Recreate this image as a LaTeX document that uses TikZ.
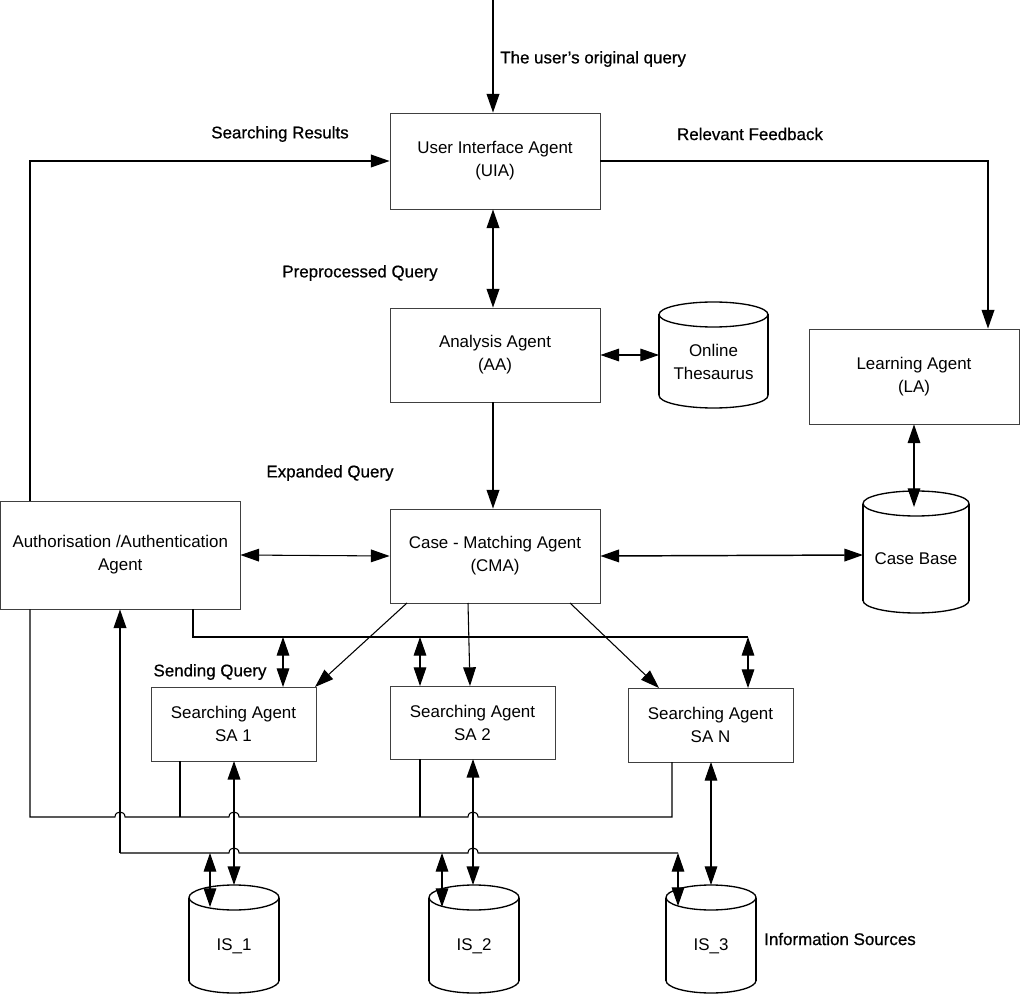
\documentclass[tikz,border=0pt]{standalone}
\usepackage{fontspec}
\setmainfont{Liberation Sans}
\newfontfamily\lblfont{Liberation Sans}[FakeBold=0.7,Ligatures=TeX]
\usetikzlibrary{arrows.meta}
\newcommand{\dbase}[6]{%
  \pgfmathsetmacro\cxa{(#2+#4)/2}%
  \pgfmathsetmacro\rxa{(#4-#2)/2}%
  \draw[cylline] (\cxa,#3+12.5) ellipse [x radius=\rxa, y radius=12.5];
  \draw[cylline] (#2,#3+12.5) -- (#2,#5-12.5);
  \draw[cylline] (#4,#3+12.5) -- (#4,#5-12.5);
  \begin{scope}
    \clip (#2-3,#5-12.5) rectangle (#4+3,#5+3);
    \draw[cylline] (\cxa,#5-12.5) ellipse [x radius=\rxa, y radius=12.5];
  \end{scope}
  \node[align=center, inner sep=0pt] (#1) at (\cxa,{(#3+#5)/2+7}) {#6};
}
\begin{document}
\begin{tikzpicture}[x=0.75pt,y=-0.75pt,
  font=\fontsize{12.7}{17.2}\selectfont,
  box/.style={draw=black!75, line width=0.6pt, rectangle, align=center, inner sep=0pt},
  cylline/.style={line width=1pt},
  conn/.style={line width=1.1pt},
  thin conn/.style={line width=0.8pt},
  tip/.style={-{Triangle[length=14pt,width=9.5pt]}},
  dtip/.style={{Triangle[length=14pt,width=9.5pt]}-{Triangle[length=14pt,width=9.5pt]}},
  lbl/.style={inner sep=0pt, font=\fontsize{12.7}{15}\lblfont},
]
\useasboundingbox (0,0) rectangle (1020,994);

% boxes
\node[box, minimum width=157.5pt, minimum height=72pt] (uia) at (495,161) {User Interface Agent\\(UIA)};
\node[box, minimum width=157.5pt, minimum height=70.5pt] (aa) at (495,355) {Analysis Agent\\(AA)};
\node[box, minimum width=157.5pt, minimum height=70.5pt] (cma) at (495,556) {Case - Matching Agent\\(CMA)};
\node[box, minimum width=179.5pt, minimum height=81pt] (auth) at (120.3,555) {Authorisation /Authentication\\Agent};
\node[box, minimum width=157.5pt, minimum height=71.25pt] (la) at (914,376.5) {Learning Agent\\(LA)};
\node[box, minimum width=123.75pt, minimum height=55.5pt] (sa1) at (233.5,724) {Searching Agent\\SA 1};
\node[box, minimum width=123.75pt, minimum height=54.75pt] (sa2) at (472.5,722.5) {Searching Agent\\SA 2};
\node[box, minimum width=123.75pt, minimum height=55.5pt] (san) at (710.5,725) {Searching Agent\\SA N};

% cylinders
\dbase{thes}{659}{302}{768}{408}{Online\\Thesaurus}
\dbase{cb}{863}{491}{969}{613}{Case Base}
\dbase{is1}{189}{885}{279}{993}{IS\_1}
\dbase{is2}{429}{885}{519}{993}{IS\_2}
\dbase{is3}{666}{885}{756}{993}{IS\_3}

% labels
\node[lbl, anchor=west] (lq) at (500,59) {The user’s original query};
\node[lbl] (lsr) at (280,134) {Searching Results};
\node[lbl] (lrf) at (750,134) {Relevant Feedback};
\node[lbl] (lpq) at (360,273) {Preprocessed Query};
\node[lbl] (leq) at (330,473) {Expanded Query};
\node[lbl] (lsq) at (210,672) {Sending Query};
\node[lbl] (lis) at (840,939) {Information Sources};

% coordinates
\coordinate (top) at (493,0);
\coordinate (thesW) at (659,355);
\coordinate (cbW) at (863,555);
\coordinate (cbT) at (914,507);
\coordinate (laX) at (988,0);
\coordinate (authL) at (30,0);
\coordinate (x120) at (120,0);

% main vertical flow
\draw[conn,tip] (top) -- (top |- uia.north);
\draw[conn,dtip] (top |- uia.south) -- (top |- aa.north);
\draw[conn,tip] (top |- aa.south) -- (top |- cma.north);
\draw[thin conn,dtip] (aa.east) -- (thesW);
\draw[conn,tip] (uia.east) -| (laX |- la.north);
\draw[conn,tip] (authL |- auth.north) |- (uia.west);
\draw[thin conn,dtip] (la.south) -- (cbT);
\draw[conn,dtip] (cma.east) -- (cbW);
\draw[thin conn,dtip] (auth.east) -- (cma.west);

% CMA to searching agents
\draw[thin conn,tip] (407,603) -- (315,687);
\draw[thin conn,tip] (468,603) -- (470,686);
\draw[thin conn,tip] (570,603) -- (659,688);

% upper bus
\draw[thin conn] (193,609) -- (193,637) -- (748,637);
\draw[thin conn,dtip] (283,637) -- (283,687);
\draw[thin conn,dtip] (420,637) -- (420,686);
\draw[thin conn,dtip] (748,637) -- (748,688);

% lower bus 1 (results)
\draw[thin conn] (authL |- auth.south) -- (30,817) -- (115,817)
  .. controls (115,810.3) and (125,810.3) .. (125,817) -- (229,817)
  .. controls (229,810.3) and (239,810.3) .. (239,817) -- (468,817)
  .. controls (468,810.3) and (478,810.3) .. (478,817) -- (672,817) -- (672,762);
\draw[thin conn] (180,761) -- (180,817);
\draw[thin conn] (420,759) -- (420,817);

% lower bus 2 (authorisation)
\draw[thin conn] (120,853) -- (229,853)
  .. controls (229,846.3) and (239,846.3) .. (239,853) -- (468,853)
  .. controls (468,846.3) and (478,846.3) .. (478,853) -- (678,853);
\draw[conn,tip] (120,853) -- (x120 |- auth.south);
\draw[thin conn,dtip] (210,853) -- (210,907);
\draw[thin conn,dtip] (442,853) -- (442,907);
\draw[thin conn,dtip] (678,853) -- (678,906);

% searching agents to information sources
\draw[conn,dtip] (234,761) -- (234,885);
\draw[conn,dtip] (473,759) -- (473,885);
\draw[thin conn,dtip] (711,762) -- (711,885);
\end{tikzpicture}
\end{document}
